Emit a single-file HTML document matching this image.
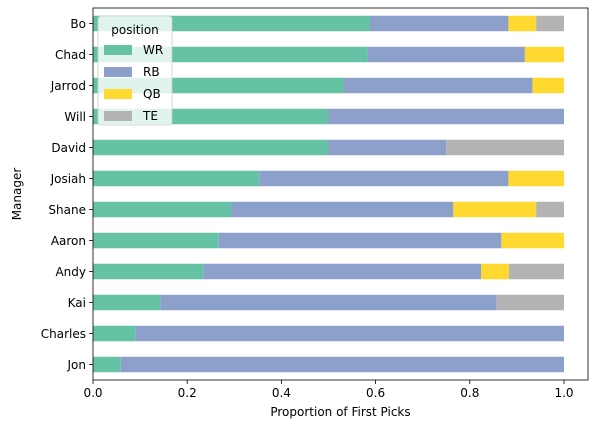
<!DOCTYPE html>
<html><head><meta charset="utf-8"><style>
body{margin:0;background:#fff;}
svg{font-family:"DejaVu Sans","Liberation Sans",sans-serif;}
</style></head><body>
<svg id="chart" width="597" height="432"></svg>
<script>
const managers=["Bo","Chad","Jarrod","Will","David","Josiah","Shane","Aaron","Andy","Kai","Charles","Jon"];
const wr=[0.588,0.583,0.533,0.5,0.5,0.353,0.294,0.267,0.235,0.143,0.091,0.059];
const rb=[0.294,0.334,0.4,0.5,0.25,0.529,0.471,0.6,0.589,0.714,0.909,0.941];
const qb=[0.059,0.083,0.067,0,0,0.118,0.176,0.133,0.059,0,0,0];
const te=[0.059,0,0,0,0.25,0,0.059,0,0.117,0.143,0,0];
const xTicks=[0,0.2,0.4,0.6,0.8,1.0];
const xTickLabels=["0.0","0.2","0.4","0.6","0.8","1.0"];
const seriesNames=["WR","RB","QB","TE"];
const colors=["#66c2a5","#8da0cb","#ffd92f","#b3b3b3"];

const NS="http://www.w3.org/2000/svg";
const svg=document.getElementById("chart");
const L=93,R=588,T=8,B=380;
const X=v=>L+v*471;
const step=(B-T)/managers.length;
const Y=i=>T+step*(i+0.5);
function mk(tag,attrs,parent){const e=document.createElementNS(NS,tag);for(const k in attrs)e.setAttribute(k,attrs[k]);(parent||svg).appendChild(e);return e;}

const series=[wr,rb,qb,te];
managers.forEach((m,i)=>{
  let acc=0;
  series.forEach((s,j)=>{
    const v=s[i];
    if(v>0){
      const r=mk("rect",{x:X(acc),y:Y(i)-step*0.25,width:X(acc+v)-X(acc),height:step*0.5,fill:colors[j]});
      
      
    }
    acc+=v;
  });
  mk("line",{x1:L-4,x2:L,y1:Y(i),y2:Y(i),stroke:"#000","stroke-width":0.8});
  const t=mk("text",{x:L-7,y:Y(i)+4.5,"text-anchor":"end","font-size":12});
  t.textContent=m;
  
  
});
xTicks.forEach((v,k)=>{
  mk("line",{x1:X(v),x2:X(v),y1:B,y2:B+4,stroke:"#000","stroke-width":0.8});
  const t=mk("text",{x:X(v),y:B+17,"text-anchor":"middle","font-size":12});
  t.textContent=xTickLabels[k];
  
  
});
const frame=mk("rect",{x:L,y:T,width:R-L,height:B-T,fill:"none",stroke:"#000","stroke-width":0.8});


const xt=mk("text",{x:(L+R)/2,y:416,"text-anchor":"middle","font-size":12});
xt.textContent="Proportion of First Picks";


const yt=mk("text",{x:21,y:(T+B)/2,"text-anchor":"middle","font-size":12,transform:"rotate(-90 21 "+((T+B)/2)+")"});
yt.textContent="Manager";



const lg=mk("g",{});


mk("rect",{x:98,y:16,width:74,height:109,rx:3,fill:"#fff","fill-opacity":0.8,stroke:"#ccc","stroke-width":0.8},lg);
const lt=mk("text",{x:135,y:34,"text-anchor":"middle","font-size":12},lg);
lt.textContent="position";
seriesNames.forEach((n,j)=>{
  const y=49+j*22;
  const p=mk("rect",{x:104,y:y-4,width:28,height:10,fill:colors[j]},lg);
  
  
  const t=mk("text",{x:143,y:y+5,"font-size":12},lg);
  t.textContent=n;
  
  
});
</script>
</body></html>
